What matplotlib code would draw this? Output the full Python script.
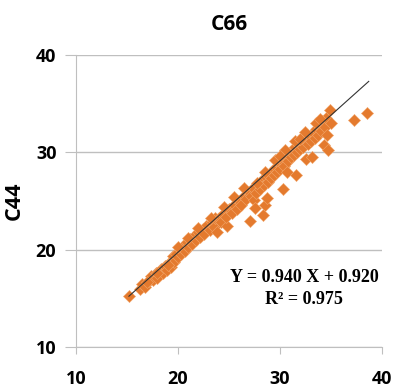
import numpy as np
import matplotlib
matplotlib.use('Agg')
import matplotlib.pyplot as plt

# C66 vs C44 values
c66 = [15.2, 16.3, 16.5, 16.8, 17.2, 17.4, 17.6, 17.9, 18.0, 18.3, 18.5, 18.7, 18.9,
       19.1, 19.3, 19.5, 19.6, 19.8, 20.0, 20.2, 20.3, 20.5, 20.7, 20.9, 21.0, 21.2,
       21.4, 21.6, 21.8, 22.0, 22.2, 22.5, 22.6, 22.8, 23.1, 23.3, 23.5, 23.6, 23.8,
       24.0, 24.2, 24.4, 24.8, 24.7, 25.0, 25.3, 25.5, 25.8, 26.0, 26.2, 26.5, 26.7,
       27.0, 27.1, 27.2, 27.4, 27.5, 27.6, 27.7, 27.9, 28.0, 28.2, 28.3, 28.4, 28.5,
       28.6, 28.7, 28.8, 29.0, 29.1, 29.3, 29.4, 29.6, 29.7, 29.9, 30.0, 30.2, 30.3,
       30.4, 30.5, 30.7, 30.8, 30.9, 31.1, 31.2, 31.4, 31.6, 31.5, 31.7, 31.9, 32.0,
       32.2, 32.3, 32.5, 32.6, 32.7, 32.9, 33.1, 33.0, 33.2, 33.4, 33.5, 33.7, 33.8,
       34.0, 34.1, 34.3, 34.4, 34.5, 34.7, 34.6, 34.9, 35.0, 37.25, 38.5,
       28.5, 29.5, 30.5, 31.5, 32.5, 33.5, 26.5, 25.5, 24.5, 23.2, 22.0, 21.0, 20.0,
       18.0, 19.0, 17.0, 27.8, 30.0, 32.0, 33.9]
c44 = [15.2, 15.9, 16.5, 16.2, 16.8, 17.3, 16.9, 17.6, 17.1, 18.0, 17.6, 18.3, 17.9,
       18.6, 18.2, 19.3, 18.7, 19.6, 19.2, 20.1, 19.6, 20.4, 19.9, 20.8, 20.3, 21.1,
       20.6, 21.4, 21.0, 21.8, 21.3, 22.1, 21.6, 22.4, 22.0, 22.8, 22.3, 23.2, 21.8,
       23.3, 22.8, 23.7, 22.4, 23.4, 24.2, 23.8, 24.6, 24.2, 25.0, 24.6, 25.5, 25.2,
       25.9, 22.9, 25.5, 26.3, 25.1, 24.3, 25.8, 26.8, 26.2, 27.2, 23.6, 26.6, 24.6,
       27.5, 25.3, 27.0, 27.9, 27.4, 28.2, 27.7, 28.5, 28.0, 28.9, 28.3, 29.2, 26.2,
       28.6, 29.6, 28.0, 29.1, 29.9, 29.5, 30.2, 29.7, 27.7, 30.5, 30.0, 30.8, 30.3,
       31.1, 30.5, 31.4, 29.3, 30.9, 31.7, 29.5, 31.2, 32.0, 31.5, 32.4, 31.8, 32.8,
       32.2, 33.2, 30.8, 32.6, 33.5, 30.2, 31.8, 34.4, 33.0, 33.3, 34.0,
       28.0, 29.2, 30.2, 31.2, 32.1, 33.0, 26.3, 25.4, 24.4, 23.3, 22.2, 21.2, 20.3,
       17.6, 18.4, 16.7, 26.9, 29.6, 31.4, 33.4]
slope = 0.940
intercept = 0.920
fit_range = [15.2, 38.7]
ticks = [10, 20, 30, 40]

fig = plt.figure(figsize=(3.93, 3.88), dpi=100)
ax = fig.add_axes([0.193, 0.106, 0.779, 0.752])

ax.scatter(c66, c44, s=38, marker='D', c='#E47A2E', edgecolors='#F2A66A',
           linewidths=0.4, zorder=3)
xf = np.array(fit_range)
ax.plot(xf, slope * xf + intercept, color='#333333', lw=0.8, zorder=4)

ax.set_xlim(10, 40)
ax.set_ylim(10, 40)
ax.set_xticks(ticks)
ax.set_yticks(ticks)
ax.yaxis.grid(True, color='#BFBFBF', lw=1)
ax.set_axisbelow(True)
for s in ['top', 'right']:
    ax.spines[s].set_visible(False)
for s in ['left', 'bottom']:
    ax.spines[s].set_color('#BFBFBF')
ax.tick_params(axis='x', length=5, color='#BFBFBF', pad=12)
ax.tick_params(axis='y', length=8, color='#BFBFBF', pad=6)
for lab in ax.get_xticklabels() + ax.get_yticklabels():
    lab.set_fontfamily('Open Sans')
    lab.set_fontweight('bold')
    lab.set_fontsize(13)

ax.set_title('C66', fontfamily='Open Sans', fontweight='bold', fontsize=15, pad=18)
ax.set_ylabel('C44', fontfamily='Open Sans', fontweight='bold', fontsize=15.5, labelpad=8)

ax.text(0.745, 0.2, 'Y = 0.940 X + 0.920\nR² = 0.975', transform=ax.transAxes,
        ha='center', va='center', fontfamily='Liberation Serif', fontweight='bold',
        fontsize=13, linespacing=1.45)

plt.savefig('out.png', dpi=100)
